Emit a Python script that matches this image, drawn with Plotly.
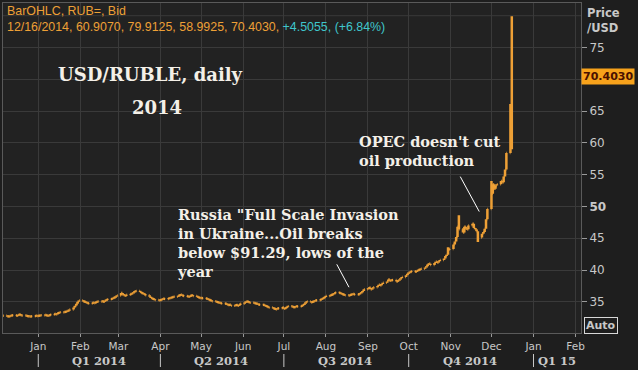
import plotly.graph_objects as go
import pandas as pd

# ---- daily closes, by month ----
dec13 = [32.85, 32.80, 32.75, 32.70, 32.78, 32.85, 32.90, 32.82, 32.95, 33.00,
         32.90, 32.85, 32.80, 32.75, 32.72, 32.70, 32.75, 32.80, 32.78]
jan14 = [32.80, 32.85, 32.90, 32.95, 32.85, 32.80, 32.90, 33.00, 33.10, 33.05,
         33.20, 33.30, 33.35, 33.40, 33.45, 33.55, 33.60, 33.80, 34.10, 34.40,
         34.70, 35.00, 35.20]
feb14 = [35.10, 35.00, 34.90, 34.80, 34.75, 34.85, 34.80, 34.90, 35.00, 35.05,
         35.10, 35.00, 35.20, 35.30, 35.40, 35.50, 35.60, 35.70, 35.85, 36.00]
mar14 = [36.40, 36.20, 36.05, 35.95, 36.10, 36.25, 36.30, 36.50, 36.65, 36.70,
         36.55, 36.40, 36.30, 36.20, 36.05, 35.80, 35.60, 35.50, 35.40, 35.30, 35.25]
apr14 = [35.30, 35.40, 35.50, 35.45, 35.55, 35.60, 35.70, 35.75, 35.80, 35.95,
         36.05, 36.10, 36.00, 35.90, 35.85, 35.80, 35.95, 36.05, 35.90, 35.80,
         35.70, 35.60]
may14 = [35.60, 35.55, 35.50, 35.40, 35.30, 35.20, 35.10, 35.00, 34.95, 34.85,
         34.80, 34.75, 34.70, 34.60, 34.50, 34.55, 34.40, 34.45, 34.50, 34.40,
         34.55, 34.70]
jun14 = [34.90, 35.00, 35.05, 34.95, 34.85, 34.80, 34.75, 34.70, 34.60, 34.55,
         34.50, 34.40, 34.30, 34.20, 34.10, 34.00, 33.90, 33.85, 33.95, 34.00, 34.10]
jul14 = [33.90, 34.05, 34.20, 34.30, 34.25, 34.15, 34.20, 34.30, 34.25, 34.40,
         34.50, 34.70, 34.95, 35.05, 34.95, 35.00, 35.10, 35.20, 35.25, 35.35,
         35.50, 35.60, 35.75]
aug14 = [35.90, 36.00, 36.10, 36.20, 36.35, 36.45, 36.40, 36.30, 36.20, 36.10,
         36.05, 36.00, 36.10, 36.20, 36.25, 36.15, 36.20, 36.35, 36.50, 36.70, 37.00]
sep14 = [37.15, 37.20, 37.00, 37.10, 37.30, 37.50, 37.70, 37.60, 37.80, 38.00,
         38.20, 38.50, 38.30, 38.40, 38.45, 38.20, 38.30, 38.50, 38.70, 38.90,
         39.20, 39.40]
oct14 = [39.60, 39.70, 39.80, 39.75, 39.90, 40.00, 40.10, 40.20, 40.40, 40.60,
         40.90, 41.00, 40.80, 41.10, 41.30, 41.20, 41.40, 41.60, 41.80, 42.20,
         42.40, 43.20, 43.30]
nov14 = [44.00, 44.50, 45.20, 46.80, 46.40, 45.90, 46.80, 46.50, 46.40, 47.00,
         47.30, 46.60, 46.40, 46.10, 45.10, 45.70, 46.00, 46.50, 48.00, 49.60]
dec14 = [52.00, 53.50, 52.80, 53.30, 53.50, 54.00, 53.80, 54.70, 55.80, 58.40,
         64.50, 70.403]

open_override = {"2014-12-16": 60.907}
high_override = {"2014-10-30": 43.6, "2014-11-07": 48.6, "2014-12-01": 54.0,
                 "2014-12-15": 66.1, "2014-12-16": 79.9125}
low_override = {"2014-11-21": 44.4, "2014-12-16": 58.9925}

month_ticks = ["2014-01-01", "2014-02-01", "2014-03-01", "2014-04-01", "2014-05-01",
               "2014-06-01", "2014-07-01", "2014-08-01", "2014-09-01", "2014-10-01",
               "2014-11-01", "2014-12-01", "2015-01-01", "2015-02-01"]
month_labels = ["Jan", "Feb", "Mar", "Apr", "May", "Jun", "Jul", "Aug", "Sep",
                "Oct", "Nov", "Dec", "Jan", "Feb"]
quarter_starts = ["2014-01-01", "2014-04-01", "2014-07-01", "2014-10-01", "2015-01-01"]
quarter_centers = ["2014-02-15", "2014-05-16", "2014-08-15", "2014-11-15", "2015-01-18"]
quarter_labels = ["Q1 2014", "Q2 2014", "Q3 2014", "Q4 2014", "Q1 15"]
y_tickvals = [35, 40, 45, 50, 55, 60, 65, 70, 75]
y_ticktext = ["35", "40", "45", "<b>50</b>", "55", "60", "65", "", "75"]

closes = dec13 + jan14 + feb14 + mar14 + apr14 + may14 + jun14 + jul14 + aug14 + sep14 + oct14 + nov14 + dec14
dates = pd.bdate_range(end="2014-12-16", periods=len(closes))
keys = [d.strftime("%Y-%m-%d") for d in dates]
opens = [closes[0]] + closes[:-1]
opens = [open_override.get(k, o) for k, o in zip(keys, opens)]
highs = [high_override.get(k, max(o, c)) for k, o, c in zip(keys, opens, closes)]
lows = [low_override.get(k, min(o, c)) for k, o, c in zip(keys, opens, closes)]

ORANGE = "#eea036"
GRID = "#3a3a3a"
TXT = "#c8c8c8"

# pixel helpers for layout (plot area: x 3..581, y 3..333)
L, R, T, B = 3, 581, 3, 333
def px(x):
    return (x - L) / (R - L)
def py(y):
    return (B - y) / (B - T)

fig = go.Figure()
fig.add_trace(go.Ohlc(
    x=dates, open=opens, high=highs, low=lows, close=closes,
    increasing=dict(line=dict(color=ORANGE, width=2.5)),
    decreasing=dict(line=dict(color=ORANGE, width=2.5)),
    tickwidth=0.5, hoverinfo="skip", showlegend=False))

ann = []
ann.append(dict(xref="paper", yref="paper", x=px(5), y=py(11), xanchor="left", yanchor="middle",
                text="BarOHLC, RUB=, Bid", showarrow=False,
                font=dict(family="Liberation Sans", size=12.4, color=ORANGE)))
ann.append(dict(xref="paper", yref="paper", x=px(5), y=py(27), xanchor="left", yanchor="middle",
                text="12/16/2014, 60.9070, 79.9125, 58.9925, 70.4030, "
                     "<span style='color:#3fc6cc'>+4.5055, (+6.84%)</span>",
                showarrow=False, font=dict(family="Liberation Sans", size=12.4, color=ORANGE)))
ann.append(dict(xref="paper", yref="paper", x=px(150), y=py(74), xanchor="center", yanchor="middle",
                text="<b>USD/RUBLE, daily</b>", showarrow=False,
                font=dict(family="DejaVu Serif", size=18, color="#f4f0e8")))
ann.append(dict(xref="paper", yref="paper", x=px(157), y=py(107), xanchor="center", yanchor="middle",
                text="<b>2014</b>", showarrow=False,
                font=dict(family="DejaVu Serif", size=18, color="#f4f0e8")))
ann.append(dict(xref="paper", yref="paper", x=px(175), y=py(243), xanchor="left", yanchor="middle",
                align="left", showarrow=False,
                text="<b>Russia \"Full Scale Invasion<br>in Ukraine...Oil breaks<br>"
                     "below $91.29, lows of the<br>year</b>",
                font=dict(family="DejaVu Serif", size=14.5, color="#f4f0e8")))
ann.append(dict(xref="paper", yref="paper", x=px(357), y=py(151), xanchor="left", yanchor="middle",
                align="left", showarrow=False,
                text="<b>OPEC doesn't cut<br>oil production</b>",
                font=dict(family="DejaVu Serif", size=14.5, color="#f4f0e8")))
# right side labels
ann.append(dict(xref="paper", yref="paper", x=px(585), y=py(20), xanchor="left", yanchor="middle",
                align="left", showarrow=False, text="<b>Price<br>/USD</b>",
                font=dict(family="DejaVu Sans", size=11.5, color=TXT)))
ann.append(dict(xref="paper", yref="y", x=px(581), y=closes[-1], xanchor="left", yanchor="middle",
                showarrow=False, text="<b>70.4030</b>", bgcolor="#f7a21b", borderpad=1,
                font=dict(family="DejaVu Sans", size=11, color="#4a1000")))
ann.append(dict(xref="paper", yref="paper", x=px(584), y=py(325), xanchor="left", yanchor="middle",
                showarrow=False, text="<b>Auto</b>", bordercolor="#d8d8d8", borderwidth=1,
                borderpad=1, bgcolor="#1e1e1e",
                font=dict(family="DejaVu Sans", size=11, color=TXT)))
for qc, ql in zip(quarter_centers, quarter_labels):
    ann.append(dict(xref="x", yref="paper", x=qc, y=py(360.5), xanchor="center", yanchor="middle",
                    showarrow=False, text="<b>" + ql + "</b>",
                    font=dict(family="DejaVu Serif", size=11.5, color=TXT)))

shapes = []
shapes.append(dict(type="line", xref="paper", yref="y", x0=0, x1=1, y0=80, y1=80,
                   line=dict(color=GRID, width=1), layer="below"))
for qs in quarter_starts:
    shapes.append(dict(type="line", xref="x", yref="paper", x0=qs, x1=qs, y0=py(354), y1=py(367),
                       line=dict(color=TXT, width=1)))
# pointer lines
shapes.append(dict(type="line", xref="x", yref="y", x0="2014-08-09", y0=40.9, x1="2014-08-18", y1=37.3,
                   line=dict(color="#ffffff", width=1)))
shapes.append(dict(type="line", xref="x", yref="y", x0="2014-11-08", y0=54.7, x1="2014-11-22", y1=49.2,
                   line=dict(color="#ffffff", width=1)))
# white strips at bottom/right edge
shapes.append(dict(type="rect", xref="paper", yref="paper", x0=-1, x1=2, y0=-1, y1=py(370),
                   fillcolor="#ffffff", line=dict(width=0), layer="above"))
shapes.append(dict(type="rect", xref="paper", yref="paper", x0=px(638), x1=2, y0=-1, y1=2,
                   fillcolor="#ffffff", line=dict(width=0), layer="above"))

fig.update_layout(
    width=643, height=382,
    margin=dict(l=L, r=643 - R, t=T, b=382 - B),
    paper_bgcolor="#1e1e1e", plot_bgcolor="#222222",
    annotations=ann, shapes=shapes, showlegend=False,
    xaxis=dict(type="date", range=["2013-12-06", "2015-02-05"],
               tickvals=month_ticks, ticktext=month_labels,
               showgrid=True, gridcolor=GRID, gridwidth=1,
               ticks="outside", ticklen=3, tickcolor="#9a9a9a",
               tickfont=dict(family="DejaVu Sans", size=10.5, color=TXT),
               showline=True, linecolor="#5a5a5a", mirror=True,
               rangeslider=dict(visible=False), zeroline=False, fixedrange=True),
    yaxis=dict(side="right", range=[30.1, 82],
               tickvals=y_tickvals, ticktext=y_ticktext,
               showgrid=True, gridcolor=GRID, gridwidth=1,
               ticks="outside", ticklen=5, tickcolor="#9a9a9a",
               tickfont=dict(family="DejaVu Sans", size=12, color=TXT),
               showline=True, linecolor="#5a5a5a", mirror=True, zeroline=False, fixedrange=True),
)

fig.write_html("out.html", config={"displayModeBar": False},
               post_script="document.body.style.margin='0px';document.body.style.overflow='hidden';")
